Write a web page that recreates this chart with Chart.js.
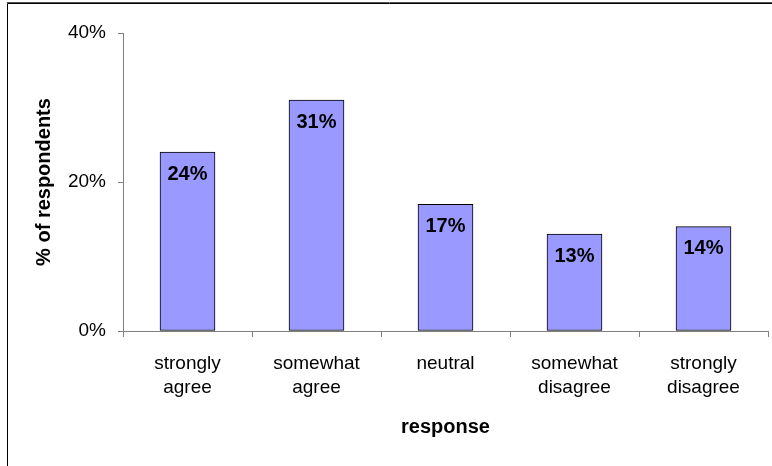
<!DOCTYPE html>
<html>
<head>
<meta charset="utf-8">
<script src="https://cdn.jsdelivr.net/npm/chart.js@4"></script>
<style>
  html, body { margin: 0; padding: 0; background: #fff; }
  #wrap { position: relative; width: 772px; height: 466px; }
</style>
</head>
<body>
<div id="wrap"><canvas id="chart" width="772" height="466"></canvas></div>
<script>
// chart data
const categories = [
  ['strongly', 'agree'],
  ['somewhat', 'agree'],
  ['neutral'],
  ['somewhat', 'disagree'],
  ['strongly', 'disagree'],
];
const percentValues = [24, 31, 17, 13, 14];
const yTicks = [0, 20, 40];

const FONT = "Arial, 'Liberation Sans', sans-serif";
const AXIS_GRAY = '#808080';

// frame around the whole picture (left and top edges are visible)
const frame = {
  id: 'frame',
  beforeDraw(chart) {
    const { ctx, width, height } = chart;
    ctx.save();
    ctx.strokeStyle = '#000';
    ctx.lineWidth = 1;
    ctx.beginPath();
    ctx.moveTo(7.5, height);
    ctx.lineTo(7.5, 3.5);
    ctx.lineTo(width, 3.5);
    ctx.stroke();
    ctx.strokeStyle = '#555';
    ctx.beginPath();
    ctx.moveTo(7, 2.5);
    ctx.lineTo(width, 2.5);
    ctx.stroke();
    ctx.restore();
  },
};

// value labels inside the top of each bar
const barLabels = {
  id: 'barLabels',
  afterDatasetsDraw(chart) {
    const { ctx } = chart;
    const meta = chart.getDatasetMeta(0);
    ctx.save();
    ctx.font = `bold 20px ${FONT}`;
    ctx.fillStyle = '#000';
    ctx.textAlign = 'center';
    ctx.textBaseline = 'middle';
    meta.data.forEach((bar, i) => {
      ctx.fillText(percentValues[i] + '%', bar.x, bar.y + 22);
    });
    ctx.restore();
  },
};

new Chart(document.getElementById('chart'), {
  type: 'bar',
  data: {
    labels: categories,
    datasets: [
      {
        data: percentValues,
        backgroundColor: '#9999FF',
        borderColor: '#000',
        borderWidth: 1,
        borderSkipped: false,
        barThickness: 55,
      },
    ],
  },
  plugins: [frame, barLabels],
  options: {
    responsive: false,
    animation: false,
    events: [],
    layout: { padding: { top: 33, right: 4, bottom: 0, left: 0 } },
    plugins: {
      legend: { display: false },
      tooltip: { enabled: false },
    },
    scales: {
      x: {
        offset: true,
        afterFit(scale) { scale.height = 466 - 331; },
        border: { color: AXIS_GRAY, width: 1 },
        grid: {
          offset: true,
          drawOnChartArea: false,
          drawTicks: true,
          tickLength: 6,
          color: AXIS_GRAY,
        },
        ticks: {
          color: '#000',
          font: { family: FONT, size: 19, lineHeight: 1.3 },
          padding: 14,
          maxRotation: 0,
          autoSkip: false,
        },
        title: {
          display: true,
          text: 'response',
          color: '#000',
          font: { family: FONT, size: 20, weight: 'bold', lineHeight: 1.2 },
          padding: { top: 0, bottom: 27 },
        },
      },
      y: {
        min: 0,
        max: 40,
        afterFit(scale) { scale.width = 123; },
        afterBuildTicks(scale) { scale.ticks = yTicks.map((v) => ({ value: v })); },
        border: { color: AXIS_GRAY, width: 1 },
        grid: {
          drawOnChartArea: false,
          drawTicks: true,
          tickLength: 5,
          color: AXIS_GRAY,
        },
        ticks: {
          color: '#000',
          font: { family: FONT, size: 19 },
          padding: 12,
          callback: (v) => v + '%',
        },
        title: {
          display: true,
          text: '% of respondents',
          color: '#000',
          font: { family: FONT, size: 20, weight: 'bold', lineHeight: 1.2 },
          padding: { top: 32, bottom: 0 },
        },
      },
    },
  },
});
</script>
</body>
</html>
